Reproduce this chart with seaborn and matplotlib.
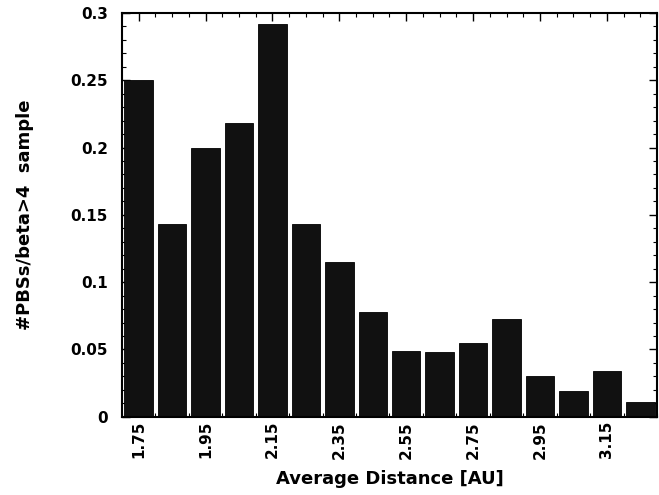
import numpy as np
import pandas as pd
import matplotlib
matplotlib.use("Agg")
import matplotlib.pyplot as plt
from matplotlib.ticker import MultipleLocator, FixedLocator, FixedFormatter
import seaborn as sns

# bin centres (AU) and fraction of PBSs with beta>4
distancia = [1.75, 1.85, 1.95, 2.05, 2.15, 2.25, 2.35, 2.45,
             2.55, 2.65, 2.75, 2.85, 2.95, 3.05, 3.15, 3.25]
fracao = [0.250, 0.143, 0.200, 0.218, 0.292, 0.143, 0.115, 0.078,
          0.049, 0.048, 0.055, 0.073, 0.030, 0.019, 0.034, 0.011]

y_ticks = [0, 0.05, 0.1, 0.15, 0.2, 0.25, 0.3]
y_labels = ["0", "0.05", "0.1", "0.15", "0.2", "0.25", "0.3"]
x_ticks = [1.75, 1.95, 2.15, 2.35, 2.55, 2.75, 2.95, 3.15]
x_labels = ["1.75", "1.95", "2.15", "2.35", "2.55", "2.75", "2.95", "3.15"]

df = pd.DataFrame({"dist": distancia, "frac": fracao})

sns.set_style("ticks", {"text.color": "black", "xtick.color": "black",
                        "ytick.color": "black", "axes.labelcolor": "black"})
plt.rcParams['font.family'] = ['DejaVu Sans']

fig = plt.figure(figsize=(6.59, 4.95), dpi=100)
ax = fig.add_axes([0.185, 0.158, 0.812, 0.816])

sns.barplot(data=df, x="dist", y="frac", native_scale=True, width=0.85,
            color="#111111", saturation=1, edgecolor="#000000", linewidth=0.6, ax=ax)

ax.set_xlim(1.70, 3.30)
ax.set_ylim(0, 0.3)

ax.xaxis.set_major_locator(FixedLocator(x_ticks))
ax.xaxis.set_major_formatter(FixedFormatter(x_labels))
ax.xaxis.set_minor_locator(MultipleLocator(0.05))
ax.yaxis.set_major_locator(FixedLocator(y_ticks))
ax.yaxis.set_major_formatter(FixedFormatter(y_labels))
ax.yaxis.set_minor_locator(MultipleLocator(0.01))

ax.tick_params(axis="both", which="both", direction="in", top=True, right=True)
ax.tick_params(axis="both", which="major", length=6, width=1)
ax.tick_params(axis="both", which="minor", length=3, width=0.8)
ax.tick_params(axis="x", which="major", pad=3, labelrotation=90)
ax.tick_params(axis="y", which="major", pad=10)

for lbl in ax.get_xticklabels() + ax.get_yticklabels():
    lbl.set_fontweight("bold")
    lbl.set_fontsize(11)
    lbl.set_color("black")

for s in ax.spines.values():
    s.set_linewidth(1.5)
    s.set_color("black")

ax.set_xlabel("Average Distance [AU]", fontsize=13, fontweight="bold",
              labelpad=8, color="black")
ax.set_ylabel("#PBSs/beta>4  sample", fontsize=13, fontweight="bold",
              labelpad=26, color="black")

fig.savefig("out.png", dpi=100)
